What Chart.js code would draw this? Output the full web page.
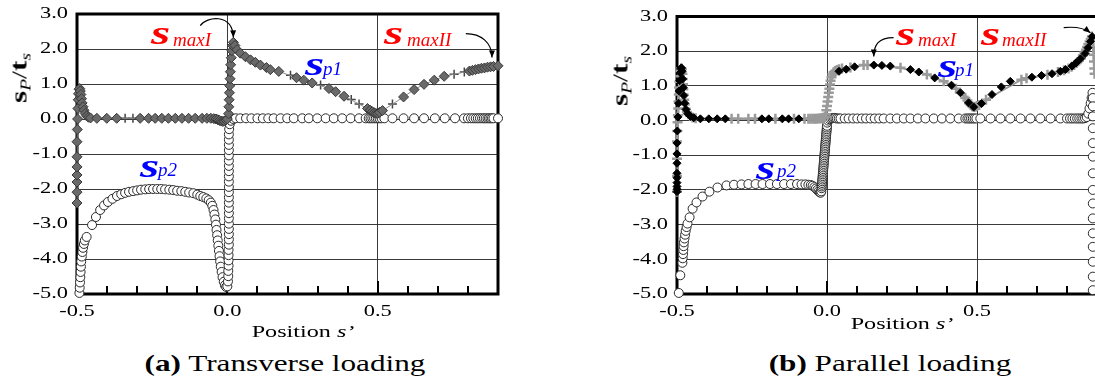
<!DOCTYPE html>
<html>
<head>
<meta charset="utf-8">
<script src="https://cdn.jsdelivr.net/npm/chart.js@4.4.1/dist/chart.umd.min.js"></script>
<style>
  html, body { margin: 0; padding: 0; background: #fff; overflow: hidden; }
  #page { position: relative; width: 1095px; height: 392px; overflow: hidden;
          font-family: "Liberation Serif", "Times New Roman", serif; color: #000; }
  #page canvas { position: absolute; top: 0; }
  .txt { position: absolute; white-space: nowrap; }
</style>
</head>
<body>
<div id="page">
  <canvas id="chartA" width="548" height="340" style="left:0"></canvas>
  <canvas id="chartB" width="560" height="340" style="left:560px"></canvas>
</div>
<script>
// axis ranges and labelled ticks
const xRange = [-0.5, 0.9];
const yRange = [-5, 3];
const xLabelled = [-0.5, 0, 0.5];
const yLabelled = [3, 2, 1, 0, -1, -2, -3, -4, -5];

// (a) transverse loading: [position s', sP/ts]
const transSp1 = [
  [-0.5,-2.4],[-0.5,-2.09],[-0.5,-1.8],[-0.5,-1.6],[-0.5,-1.37],[-0.5,-1.08],[-0.5,-0.65],
  [-0.499,-0.3],[-0.498,0.0],[-0.497,0.3],[-0.496,0.55],[-0.495,0.72],[-0.493,0.85],[-0.491,0.87],
  [-0.489,0.8],[-0.487,0.7],[-0.485,0.58],[-0.483,0.46],[-0.48,0.35],[-0.477,0.25],[-0.473,0.16],
  [-0.468,0.09],[-0.462,0.05],[-0.455,0.03],[-0.434,0.02],[-0.401,0.02],[-0.368,0.02],[-0.29,0.02],
  [-0.262,0.02],[-0.24,0.02],[-0.218,0.02],[-0.196,0.02],[-0.173,0.02],[-0.151,0.02],[-0.129,0.02],
  [-0.107,0.02],[-0.084,0.02],[-0.068,0.02],[-0.055,0.02],[-0.045,0.01],[-0.038,0.0],[-0.032,-0.02],
  [-0.026,-0.04],[-0.02,-0.06],[-0.015,-0.07],[-0.01,-0.06],[-0.005,-0.03],[0.0,0.0],
  [0.004,0.15],[0.005,0.35],[0.006,0.55],[0.007,0.75],[0.008,0.95],[0.009,1.15],[0.01,1.35],
  [0.011,1.55],[0.013,1.75],[0.015,1.95],[0.017,2.1],[0.02,2.19],
  [0.025,2.1],[0.032,1.98],[0.043,1.88],[0.06,1.78],[0.077,1.69],[0.093,1.62],[0.11,1.54],[0.13,1.47],
  [0.143,1.41],[0.171,1.36],[0.23,1.18],[0.254,1.11],[0.282,1.03],[0.338,0.87],[0.36,0.78],[0.388,0.65],
  [0.466,0.3],[0.475,0.25],[0.482,0.21],[0.488,0.18],[0.494,0.16],[0.5,0.16],[0.506,0.19],[0.516,0.24],
  [0.586,0.63],[0.621,0.84],[0.654,0.99],[0.688,1.11],[0.721,1.22],[0.805,1.37],[0.815,1.39],[0.825,1.41],
  [0.835,1.43],[0.845,1.45],[0.855,1.46],[0.865,1.48],[0.875,1.49],[0.885,1.5],[0.9,1.52]
];
const transBars = [
  [-0.34,0.02],[-0.314,0.02],[0.21,1.25],[0.31,0.97],[0.412,0.56],[0.438,0.43],[0.549,0.43],[0.754,1.28],[0.788,1.34]
];
const transSp2 = [
  [-0.492,-4.97],[-0.491,-4.82],[-0.49,-4.67],[-0.489,-4.52],[-0.488,-4.37],[-0.487,-4.22],[-0.486,-4.07],
  [-0.484,-3.93],[-0.482,-3.8],[-0.48,-3.68],[-0.477,-3.57],[-0.474,-3.47],[-0.468,-3.37],[-0.45,-3.03],
  [-0.437,-2.8],[-0.423,-2.6],[-0.41,-2.47],[-0.397,-2.37],[-0.382,-2.28],[-0.367,-2.2],[-0.353,-2.15],
  [-0.34,-2.11],[-0.327,-2.08],[-0.313,-2.06],[-0.3,-2.04],[-0.287,-2.02],[-0.273,-2.01],[-0.26,-2.0],
  [-0.247,-2.0],[-0.233,-2.0],[-0.22,-2.0],[-0.207,-2.01],[-0.193,-2.02],[-0.18,-2.03],[-0.167,-2.05],
  [-0.153,-2.06],[-0.14,-2.08],[-0.127,-2.1],[-0.113,-2.12],[-0.1,-2.16],[-0.09,-2.2],[-0.08,-2.23],
  [-0.07,-2.27],[-0.062,-2.32],[-0.055,-2.39],[-0.05,-2.48],[-0.046,-2.6],[-0.043,-2.73],[-0.04,-2.87],
  [-0.038,-3.02],[-0.036,-3.17],[-0.034,-3.32],[-0.032,-3.47],[-0.03,-3.62],[-0.028,-3.77],[-0.026,-3.92],
  [-0.024,-4.07],[-0.022,-4.22],[-0.019,-4.37],[-0.016,-4.52],[-0.012,-4.65],[-0.008,-4.75],[-0.004,-4.8],
  [0.0,-4.78],[0.002,-4.64],[0.003,-4.49],[0.003,-4.34],[0.004,-4.19],[0.004,-4.04],[0.004,-3.89],
  [0.004,-3.74],[0.005,-3.59],[0.005,-3.44],[0.005,-3.29],[0.005,-3.14],[0.005,-2.99],[0.005,-2.84],
  [0.005,-2.69],[0.005,-2.54],[0.005,-2.39],[0.005,-2.24],[0.005,-2.09],[0.005,-1.94],[0.005,-1.79],
  [0.005,-1.64],[0.005,-1.49],[0.005,-1.34],[0.005,-1.19],[0.005,-1.04],[0.005,-0.89],[0.005,-0.74],
  [0.005,-0.59],[0.005,-0.44],[0.006,-0.29],[0.008,-0.15],[0.012,-0.05],[0.02,0.0],[0.028,0.02],
  [0.043,0.02],[0.062,0.02],[0.08,0.02],[0.1,0.02],[0.118,0.02],[0.136,0.02],[0.154,0.02],[0.177,0.02],
  [0.199,0.02],[0.221,0.02],[0.249,0.02],[0.271,0.02],[0.299,0.02],[0.327,0.02],[0.354,0.02],[0.382,0.02],
  [0.41,0.02],[0.438,0.02],[0.46,0.02],[0.47,0.02],[0.476,0.02],[0.482,0.02],[0.488,0.02],[0.494,0.02],
  [0.5,0.02],[0.506,0.02],[0.513,0.02],[0.522,0.02],[0.549,0.02],[0.586,0.02],[0.621,0.02],[0.654,0.02],
  [0.69,0.02],[0.723,0.02],[0.757,0.02],[0.787,0.02],[0.8,0.02],[0.81,0.02],[0.818,0.02],[0.826,0.02],
  [0.833,0.02],[0.84,0.02],[0.847,0.02],[0.853,0.02],[0.859,0.02],[0.865,0.02],[0.87,0.02],[0.875,0.02],
  [0.88,0.02],[0.885,0.02],[0.9,0.02]
];

// (b) parallel loading
const paraSp1 = [
  [-0.5,-2.05],[-0.5,-1.98],[-0.5,-1.9],[-0.5,-1.79],[-0.5,-1.65],[-0.5,-1.52],[-0.5,-1.23],[-0.5,-0.96],
  [-0.5,-0.65],[-0.499,-0.3],[-0.497,0.1],[-0.495,0.5],[-0.493,0.85],[-0.491,1.15],[-0.489,1.38],
  [-0.487,1.5],[-0.485,1.52],[-0.483,1.42],[-0.481,1.2],[-0.479,0.95],[-0.477,0.72],[-0.474,0.5],
  [-0.47,0.32],[-0.464,0.2],[-0.455,0.12],[-0.444,0.08],[-0.422,0.05],[-0.394,0.05],[-0.366,0.05],
  [-0.339,0.05],[-0.217,0.05],[-0.194,0.05],[-0.149,0.05],[-0.128,0.05],[-0.094,0.05],
  [0.04,1.42],[0.064,1.48],[0.092,1.55],[0.156,1.6],[0.183,1.59],[0.211,1.57],[0.278,1.47],[0.306,1.4],
  [0.359,1.23],[0.415,1.02],[0.445,0.8],[0.472,0.51],[0.489,0.39],[0.515,0.49],[0.55,0.75],[0.581,0.97],
  [0.611,1.13],[0.683,1.25],[0.715,1.3],[0.75,1.35],[0.778,1.42],[0.795,1.47],[0.817,1.57],[0.83,1.66],
  [0.845,1.78],[0.86,1.93],[0.87,2.1],[0.878,2.28],[0.884,2.42]
];
const paraBars = [
  [-0.5,-2.05],[-0.5,-1.6],[-0.5,-1.1],[-0.5,-0.6],[-0.499,-0.3],[-0.498,-0.05],[-0.497,0.15],[-0.496,0.35],
  [-0.495,0.55],[-0.494,0.75],[-0.493,0.95],[-0.492,1.12],[-0.49,1.28],[-0.488,1.42],[-0.486,1.5],
  [-0.484,1.48],[-0.482,1.35],[-0.481,1.2],[-0.48,1.05],[-0.479,0.9],[-0.478,0.75],[-0.476,0.6],
  [-0.474,0.46],[-0.471,0.34],[-0.467,0.25],[-0.462,0.18],[-0.456,0.13],[-0.448,0.09],[-0.438,0.07],
  [-0.318,0.05],[-0.296,0.05],[-0.262,0.05],[-0.24,0.05],[-0.172,0.05],[-0.11,0.05],[-0.075,0.05],
  [-0.062,0.05],[-0.055,0.05],[-0.048,0.05],[-0.042,0.05],[-0.036,0.05],[-0.03,0.06],[-0.024,0.06],
  [-0.018,0.07],[-0.012,0.08],[-0.007,0.1],[-0.004,0.18],[-0.002,0.3],[0.0,0.42],[0.002,0.55],
  [0.004,0.68],[0.006,0.8],[0.008,0.92],[0.01,1.04],[0.012,1.15],[0.015,1.25],[0.018,1.33],[0.022,1.39],
  [0.027,1.43],[0.033,1.46],[0.04,1.48],[0.05,1.5],[0.078,1.53],[0.122,1.6],[0.135,1.6],[0.245,1.52],
  [0.333,1.33],[0.389,1.13],[0.43,0.92],[0.461,0.65],[0.468,0.58],[0.474,0.5],[0.479,0.45],[0.484,0.41],
  [0.489,0.39],[0.495,0.4],[0.5,0.42],[0.507,0.45],[0.53,0.6],[0.648,1.18],[0.665,1.22],[0.735,1.32],
  [0.77,1.4],[0.79,1.45],[0.805,1.5],[0.815,1.55],[0.824,1.6],[0.832,1.66],[0.84,1.73],[0.847,1.8],
  [0.853,1.88],[0.858,1.96],[0.863,2.04],[0.867,2.12],[0.871,2.2],[0.875,2.28],[0.879,2.35],[0.883,2.42],
  [0.886,2.3],[0.888,2.1],[0.889,1.9],[0.89,1.7],[0.891,1.5],[0.892,1.35]
];
const paraSp2 = [
  [-0.494,-4.97],[-0.489,-4.46],[-0.482,-4.1],[-0.481,-3.97],[-0.48,-3.85],[-0.479,-3.73],[-0.478,-3.62],
  [-0.477,-3.51],[-0.475,-3.4],[-0.473,-3.29],[-0.471,-3.18],[-0.468,-3.07],[-0.465,-2.97],[-0.458,-2.79],
  [-0.448,-2.54],[-0.435,-2.36],[-0.415,-2.19],[-0.392,-2.05],[-0.365,-1.93],[-0.335,-1.87],[-0.31,-1.85],
  [-0.285,-1.84],[-0.262,-1.83],[-0.238,-1.83],[-0.215,-1.83],[-0.19,-1.83],[-0.167,-1.83],[-0.143,-1.83],
  [-0.12,-1.83],[-0.1,-1.83],[-0.085,-1.84],[-0.072,-1.84],[-0.062,-1.85],[-0.054,-1.86],[-0.048,-1.88],
  [-0.042,-1.92],[-0.037,-1.96],[-0.032,-2.0],[-0.028,-2.04],[-0.024,-2.07],[-0.021,-2.08],[-0.019,-2.04],
  [-0.018,-1.95],[-0.0175,-1.9],[-0.017,-1.85],[-0.0165,-1.8],[-0.016,-1.75],[-0.0155,-1.7],[-0.015,-1.65],
  [-0.0145,-1.6],[-0.014,-1.55],[-0.0135,-1.5],[-0.013,-1.45],[-0.0125,-1.4],[-0.012,-1.35],[-0.0115,-1.3],
  [-0.011,-1.25],[-0.0105,-1.2],[-0.01,-1.15],[-0.0095,-1.1],[-0.009,-1.05],[-0.0085,-1.0],[-0.008,-0.95],
  [-0.0075,-0.9],[-0.007,-0.85],[-0.0065,-0.8],[-0.006,-0.75],[-0.0055,-0.7],[-0.005,-0.65],[-0.0045,-0.6],
  [-0.004,-0.55],[-0.0035,-0.5],[-0.003,-0.45],[-0.0025,-0.4],[-0.002,-0.35],[-0.0015,-0.3],[-0.001,-0.25],
  [-0.0005,-0.2],[0.0,-0.15],[0.001,-0.06],[0.004,0.0],
  [0.008,0.04],[0.013,0.06],[0.018,0.07],[0.023,0.07],[0.028,0.07],[0.033,0.06],[0.039,0.06],[0.045,0.06],
  [0.059,0.06],[0.072,0.06],[0.087,0.06],[0.101,0.06],[0.116,0.06],[0.13,0.06],[0.145,0.06],[0.159,0.06],
  [0.174,0.06],[0.189,0.06],[0.211,0.06],[0.233,0.06],[0.256,0.06],[0.278,0.06],[0.303,0.06],[0.328,0.06],
  [0.356,0.06],[0.383,0.06],[0.411,0.06],[0.439,0.06],[0.461,0.06],[0.468,0.06],[0.474,0.06],[0.48,0.06],
  [0.486,0.06],[0.492,0.06],[0.498,0.06],[0.511,0.06],[0.545,0.06],[0.578,0.06],[0.611,0.06],[0.645,0.06],
  [0.678,0.06],[0.711,0.06],[0.745,0.06],[0.778,0.06],[0.8,0.06],[0.81,0.06],[0.818,0.06],[0.826,0.06],
  [0.834,0.06],[0.841,0.06],[0.848,0.06],[0.854,0.06],[0.86,0.07],[0.866,0.1],[0.871,0.2],[0.875,0.35],
  [0.879,0.5],[0.882,0.65],[0.885,0.8],[0.886,0.65],[0.886,0.41],[0.886,0.12],[0.886,-0.22],[0.886,-0.65],
  [0.886,-1.04],[0.886,-1.52],[0.886,-2.0],[0.886,-2.39],[0.886,-2.82],[0.886,-3.25],[0.886,-3.64],
  [0.886,-4.07],[0.886,-4.5],[0.886,-4.89]
];

// annotation arrows, cubic curves in data coordinates
const transArrows = [
  [[-0.09,2.67],[-0.07,2.93],[0.017,3.04],[0.02,2.33]],
  [[0.793,2.44],[0.843,2.44],[0.88,2.19],[0.88,1.76]]
];
const paraArrows = [
  [[0.222,2.39],[0.172,2.39],[0.156,2.19],[0.156,1.85]],
  [[0.789,2.68],[0.826,2.71],[0.856,2.68],[0.878,2.53]]
];

const toXY = (arr) => arr.map(([x, y]) => ({ x, y }));
const isMajor = (v) => Math.abs(v * 2 - Math.round(v * 2)) < 1e-6;

const framePlugin = {
  id: 'frame',
  beforeDatasetsDraw(chart) {
    const { ctx, chartArea: a, scales: { x } } = chart;
    ctx.save();
    ctx.strokeStyle = '#000';
    ctx.lineWidth = 2;
    x.ticks.forEach(t => {
      const px = Math.round(x.getPixelForValue(t.value));
      ctx.beginPath();
      ctx.moveTo(px, a.bottom);
      ctx.lineTo(px, a.bottom - (isMajor(t.value) ? 13 : 8));
      ctx.stroke();
    });
    ctx.lineWidth = 3;
    ctx.strokeRect(a.left, a.top, a.right - a.left, a.bottom - a.top);
    ctx.restore();
  },
  afterDraw(chart, args, opts) {
    const { ctx, chartArea: a, scales: { x, y } } = chart;
    ctx.save();
    ctx.fillStyle = '#000';
    ctx.font = '16px "Liberation Serif", serif';
    ctx.textBaseline = 'middle';
    ctx.textAlign = 'right';
    yLabelled.forEach(v => {
      ctx.save();
      ctx.translate(a.left - 9, y.getPixelForValue(v));
      ctx.scale(1.4, 1);
      ctx.fillText(v.toFixed(1), 0, 0);
      ctx.restore();
    });
    ctx.textAlign = 'center';
    ctx.textBaseline = 'alphabetic';
    xLabelled.forEach(v => {
      ctx.save();
      ctx.translate(x.getPixelForValue(v), a.bottom + 22);
      ctx.scale(1.4, 1);
      ctx.fillText(v.toFixed(1), 0, 0);
      ctx.restore();
    });
    // curved arrows
    ctx.strokeStyle = '#000';
    ctx.lineWidth = 1.2;
    (opts.arrows || []).forEach(pts => {
      const p = pts.map(([vx, vy]) => ({ x: x.getPixelForValue(vx), y: y.getPixelForValue(vy) }));
      ctx.beginPath();
      ctx.moveTo(p[0].x, p[0].y);
      ctx.bezierCurveTo(p[1].x, p[1].y, p[2].x, p[2].y, p[3].x, p[3].y);
      ctx.stroke();
      const ang = Math.atan2(p[3].y - p[2].y, p[3].x - p[2].x);
      const L = 7, W = 3;
      ctx.beginPath();
      ctx.moveTo(p[3].x, p[3].y);
      ctx.lineTo(p[3].x - L * Math.cos(ang) + W * Math.sin(ang), p[3].y - L * Math.sin(ang) - W * Math.cos(ang));
      ctx.lineTo(p[3].x - L * Math.cos(ang) - W * Math.sin(ang), p[3].y - L * Math.sin(ang) + W * Math.cos(ang));
      ctx.closePath();
      ctx.fill();
    });
    ctx.restore();
  }
};

const makePanel = (id, o) => new Chart(document.getElementById(id), {
  type: 'scatter',
  data: { datasets: o.datasets },
  plugins: [framePlugin],
  options: {
    responsive: false,
    animation: false,
    events: [],
    layout: { padding: { left: 0, top: o.top, right: o.right, bottom: 0 } },
    plugins: { legend: { display: false }, tooltip: { enabled: false }, frame: { arrows: o.arrows } },
    scales: {
      x: {
        type: 'linear', min: xRange[0], max: xRange[1],
        afterFit: (s) => { s.height = o.xHeight; },
        ticks: { stepSize: 0.1, display: false },
        border: { display: false },
        grid: {
          drawTicks: false, lineWidth: 1,
          color: (c) => (c.tick && isMajor(c.tick.value) && c.tick.value > -0.4) ? '#3a3a3a' : 'rgba(0,0,0,0)'
        }
      },
      y: {
        type: 'linear', min: yRange[0], max: yRange[1],
        afterFit: (s) => { s.width = o.yWidth; },
        ticks: { stepSize: 1, display: false },
        border: { display: false },
        grid: { drawTicks: false, color: '#3a3a3a', lineWidth: 1 }
      }
    }
  }
});

const circleSet = (data) => ({
  data: toXY(data), showLine: false, clip: false, order: 3,
  pointStyle: 'circle', pointRadius: 4.5, pointBackgroundColor: '#fff',
  pointBorderColor: '#2a2a2a', pointBorderWidth: 1
});

makePanel('chartA', {
  top: 14, right: 50, yWidth: 77, xHeight: 46, arrows: transArrows,
  datasets: [
    { data: toXY(transSp1), showLine: true, clip: false, order: 1,
      borderColor: '#8c8c8c', borderWidth: 1, tension: 0,
      pointStyle: 'rectRot', pointRadius: 5, pointBackgroundColor: '#6a6a6a',
      pointBorderColor: '#383838', pointBorderWidth: 1 },
    { data: toXY(transBars), showLine: false, clip: false, order: 2,
      pointStyle: 'cross', pointRadius: 4.5, pointBorderColor: '#444', pointBorderWidth: 1.5 },
    circleSet(transSp2)
  ]
});

makePanel('chartB', {
  top: 16.5, right: 23, yWidth: 117, xHeight: 46, arrows: paraArrows,
  datasets: [
    { data: toXY(paraSp1), showLine: false, clip: false, order: 1,
      pointStyle: 'rectRot', pointRadius: 4, pointBackgroundColor: '#000',
      pointBorderColor: '#000', pointBorderWidth: 1 },
    { data: toXY(paraBars), showLine: true, clip: false, order: 2,
      borderColor: '#9a9a9a', borderWidth: 2, tension: 0,
      pointStyle: 'cross', pointRadius: 5, pointBorderColor: '#9a9a9a', pointBorderWidth: 2.5 },
    circleSet(paraSp2)
  ]
});

// html text: titles, captions, annotations
const page = document.getElementById('page');
const put = (html, o) => {
  const d = document.createElement('div');
  d.className = 'txt';
  d.innerHTML = html;
  d.style.fontSize = o.size + 'px';
  d.style.lineHeight = o.size + 'px';
  d.style.top = (o.base - 0.8375 * o.size) + 'px';
  if (o.color) d.style.color = o.color;
  if (o.weight) d.style.fontWeight = o.weight;
  if (o.italic) d.style.fontStyle = 'italic';
  if (o.center !== undefined) {
    d.style.left = (o.center - 400) + 'px';
    d.style.width = '800px';
    d.style.textAlign = 'center';
    d.style.transformOrigin = '50% 50%';
  } else {
    d.style.left = o.left + 'px';
    d.style.transformOrigin = '0 50%';
  }
  d.style.transform = 'scaleX(' + (o.sx || 1) + ')';
  page.appendChild(d);
};
const yTitle = (cx, cy) => {
  const d = document.createElement('div');
  d.className = 'txt';
  d.style.left = cx + 'px';
  d.style.top = cy + 'px';
  d.style.lineHeight = '26px';
  d.style.transform = 'translate(-50%,-50%) rotate(-90deg) scaleX(1.3)';
  d.innerHTML = '<b style="font-size:24px">s</b><i style="font-size:15px;position:relative;top:4px">P</i>' +
    '<span style="font-size:22px">/</span><b style="font-size:24px">t</b>' +
    '<i style="font-size:15px;position:relative;top:4px">s</i>';
  page.appendChild(d);
};
yTitle(20, 78);
yTitle(621, 81);

put('Position <i>s’</i>', { center: 303, base: 337, size: 17, sx: 1.42 });
put('Position <i>s’</i>', { center: 902, base: 329, size: 17, sx: 1.42 });
put('<b>(a)</b> Transverse loading', { center: 285, base: 371, size: 24, sx: 1.3 });
put('<b>(b)</b> Parallel loading', { center: 890, base: 371, size: 24, sx: 1.3 });

const bigS = (left, base, color) => put('s', { left, base, size: 34, sx: 1.45, color, weight: 'bold', italic: true });
const subTxt = (txt, left, base, color) => put(txt, { left, base, size: 19, color, italic: true });
const RED = '#ff0000', BLUE = '#0000ff';
// (a)
bigS(151, 44, RED); subTxt('maxI', 173, 46, RED);
bigS(384, 44, RED); subTxt('maxII', 407, 46, RED);
bigS(305, 75, BLUE); subTxt('p1', 323, 75, BLUE);
bigS(140, 177, BLUE); subTxt('p2', 158, 176, BLUE);
// (b)
bigS(896, 45, RED); subTxt('maxI', 918, 46, RED);
bigS(981, 45, RED); subTxt('maxII', 1002, 46, RED);
bigS(938, 77, BLUE); subTxt('p1', 955, 76, BLUE);
bigS(756, 179, BLUE); subTxt('p2', 777, 177, BLUE);
</script>
</body>
</html>
